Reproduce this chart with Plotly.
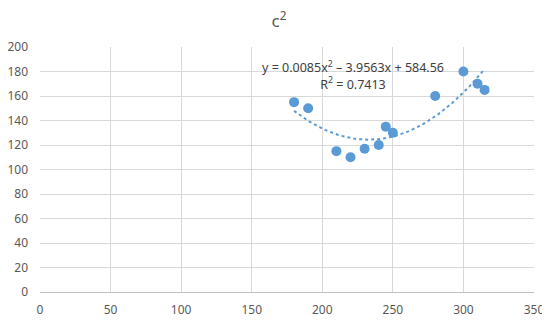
import numpy as np
import plotly.graph_objects as go

x_vals = [180, 190, 210, 220, 230, 240, 245, 250, 280, 300, 310, 315]
y_vals = [155, 150, 115, 110, 117, 120, 135, 130, 160, 180, 170, 165]
title_text = "c<sup>2</sup>"
eq_text = "y = 0.0085x<sup>2</sup> – 3.9563x + 584.56<br>R<sup>2</sup> = 0.7413"

color = "#5B9BD5"
coef = np.polyfit(x_vals, y_vals, 2)
xs = np.linspace(min(x_vals), max(x_vals), 100)
ys = np.polyval(coef, xs)

fig = go.Figure()
fig.add_trace(go.Scatter(x=xs, y=ys, mode="lines",
                         line=dict(color=color, width=2, dash="dot"),
                         hoverinfo="skip", showlegend=False))
fig.add_trace(go.Scatter(x=x_vals, y=y_vals, mode="markers",
                         marker=dict(color=color, size=10), showlegend=False))

fig.add_annotation(x=222, y=177, xref="x", yref="y", text=eq_text,
                   showarrow=False, align="center",
                   font=dict(size=12.5, color="#404040"))

# page body has an 8px default margin; compensate in figure size/margins
fig.update_layout(
    width=542, height=315,
    margin=dict(l=32, r=16, t=39, b=31, autoexpand=False),
    paper_bgcolor="white", plot_bgcolor="white",
    font=dict(family="Noto Sans, Open Sans, sans-serif", color="#595959"),
    title=dict(text=title_text, x=0.5, xanchor="center", y=0.958, yanchor="middle",
               font=dict(size=17, color="#595959")),
)
fig.update_xaxes(range=[0, 350], dtick=50, tick0=0, showgrid=True,
                 gridcolor="#D9D9D9", gridwidth=1, zeroline=False,
                 showline=True, linecolor="#BFBFBF", linewidth=1,
                 ticks="", automargin=False, ticklabelstandoff=7,
                 tickfont=dict(size=12, color="#595959"))
fig.update_yaxes(range=[0, 200], dtick=20, tick0=0, showgrid=True,
                 gridcolor="#D9D9D9", gridwidth=1, zeroline=False,
                 showline=False, ticks="", automargin=False, ticklabelstandoff=11,
                 tickfont=dict(size=12, color="#595959"))

fig.write_html("out.html")
